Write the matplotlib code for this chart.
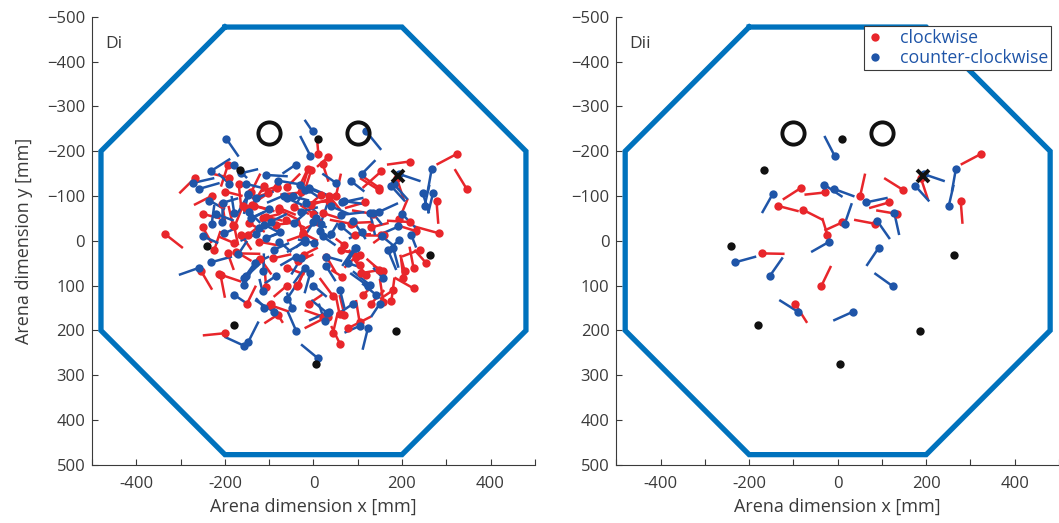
import numpy as np
import matplotlib.pyplot as plt
from matplotlib.lines import Line2D

plt.rcParams['font.family'] = ['Open Sans', 'DejaVu Sans']

RED = '#e8262b'
BLUE = '#1f55a8'
ARENA = '#0072bd'
GREY = '#3a3a3a'

# arena wall (octagon corners, mm)
arena_x = [-200, 200, 480, 480, 200, -200, -480, -480, -200]
arena_y = [-477, -477, -200, 200, 477, 477, 200, -200, -477]

# landmarks
ring_x = [-100, 100]
ring_y = [-240, -240]
post_x = [10, -167, -240, -180, 6, 187, 263]
post_y = [-228, -158, 12, 187, 275, 201, 32]
cross_x = [192]
cross_y = [-145]

# dipoles: head x, head y, tail x, tail y  (mm)
# subset shown in Dii
cw_sub = np.array([
    [324, -194, 278, -170], [-83, -118, -124, -92], [-28, -108, -75, -103],
    [51, -101, 62, -150], [147, -114, 105, -140], [-135, -78, -88, -66],
    [-78, -69, -34, -47], [-23, -13, -35, -51], [10, -41, -30, -23],
    [117, -86, 71, -73], [135, -60, 87, -68], [85, -38, 37, -47],
    [278, -88, 282, -38], [188, -140, 204, -92], [-172, 28, -120, 29],
    [-37, 101, -15, 56], [-96, 141, -69, 183],
])
ccw_sub = np.array([
    [-7, -190, -30, -234], [-147, -104, -171, -62], [-30, -125, 11, -98],
    [-9, -116, 38, -99], [65, -86, 113, -96], [16, -38, 32, -84],
    [89, -45, 118, -4], [128, -62, 139, -13], [175, -123, 207, -88],
    [194, -149, 242, -133], [267, -160, 258, -110], [251, -78, 262, -125],
    [-19, 2, -60, 25], [93, 15, 65, 56], [-232, 48, -184, 35],
    [-153, 78, -124, 37], [124, 101, 83, 72], [-90, 158, -132, 132],
    [35, 158, -10, 178],
])

# remaining dipoles, shown only in Di
cw_rest = np.array([
    [-335, -15, -295, 16], [-193, -170, -209, -121], [-267, -141, -303, -106],
    [-190, -141, -235, -151], [-169, -127, -163, -73], [-111, -123, -135, -85],
    [-206, -82, -200, -45], [-182, -36, -192, -78], [11, -194, 8, -229],
    [32, -186, 8, -165], [-5, -158, -17, -121], [21, -171, 34, -132],
    [153, -155, 111, -118], [149, -118, 111, -144], [-82, -121, -120, -110],
    [-103, -106, -140, -95], [34, -88, -15, -85], [89, -40, 135, -42],
    [-77, -73, -40, -58], [-84, -36, -50, -40], [93, -13, 130, -15],
    [70, 10, 50, -5], [153, -13, 115, -13], [217, -177, 166, -170],
    [217, -42, 166, -45], [194, -49, 213, -94], [346, -116, 319, -160],
    [283, -17, 228, -32], [231, -22, 188, -35], [160, -13, 135, 5],
    [206, 67, 196, 31], [226, 60, 217, 13], [255, 50, 228, 20],
    [203, 82, 198, 40], [226, 106, 183, 82], [176, 134, 183, 82],
    [158, 137, 150, 85], [158, 68, 135, 55], [-224, 20, -210, -22],
    [-254, 67, -229, 109], [-214, 74, -163, 91], [-210, 76, -200, 127],
    [-107, 104, -110, 65], [-199, 206, -250, 211], [104, 180, 96, 132],
    [78, 195, 130, 169], [70, 165, 59, 121], [59, 164, 50, 120],
    [44, 206, 55, 160], [32, 169, -20, 195], [21, 169, -20, 155],
    [-81, 165, -111, 184], [-99, 143, -55, 158], [44, 123, 14, 83],
    [-35, 98, -20, 60], [65, 80, 40, 65], [104, 31, 60, 20],
    [108, 72, 150, 65], [111, 121, 135, 100], [-145, -39, -110, -20],
    [-115, -51, -75, -60], [-163, -13, -140, 20], [-179, 5, -215, -10],
    [-152, -73, -120, -95], [-107, -54, -70, -45], [-139, -80, -100, -70],
    [-160, -77, -175, -40], [-179, -32, -170, 10], [-62, -47, -20, -30],
    [-122, 2, -80, 10], [-175, 24, -140, 45], [-194, 27, -180, 65],
    [-13, -160, -30, -125], [36, -99, 60, -70], [21, -62, 60, -50],
    [-24, -17, 10, 0], [-92, 39, -50, 30], [-35, 46, 0, 30],
    [29, 35, 50, 70], [-148, -13, -120, -35], [-22, 31, 10, 15],
    [63, 20, 100, 30], [149, 65, 120, 40],
    [-26, -114, -12, -160], [17, -103, -15, -75], [104, 54, 80, 20],
    [119, 76, 90, 40], [96, 35, 70, 60], [-23, -13, -60, 0],
    [-230, -100, -270, -80], [-250, -60, -210, -50], [-140, -110, -120, -150],
    [-60, -120, -30, -150], [-45, -75, -10, -60], [-5, -80, 40, -95],
    [130, -30, 170, -40], [-120, 40, -95, 75], [-60, 60, -20, 75],
    [-10, 140, 20, 120], [60, 230, 40, 190], [130, 140, 160, 110],
    [-60, 100, -90, 125], [-150, 140, -130, 100], [-250, -30, -230, 5],
    [-200, -110, -160, -100], [180, 110, 150, 130], [0, -60, -30, -80],
    [240, 20, 200, 35],
])
ccw_rest = np.array([
    [-197, -228, -169, -188], [-231, -156, -188, -183], [-273, -129, -224, -140],
    [-258, -116, -212, -129], [-190, -127, -215, -150], [-152, -127, -115, -118],
    [-107, -147, -58, -144], [-148, -103, -157, -60], [-230, -37, -224, -80],
    [-206, -42, -206, -80], [-201, -17, -176, -28], [-2, -244, -20, -270],
    [119, -244, 153, -203], [84, -134, 115, -110], [-79, -134, -24, -125],
    [-9, -119, 29, -103], [-67, -101, -105, -85], [68, -89, 115, -82],
    [63, -58, 115, -64], [134, -62, 155, -36], [6, -51, -15, -18],
    [-75, -19, -110, -5], [14, -22, 40, -5], [40, -15, 55, -40],
    [2, 5, -35, -3], [-20, -2, -40, 15], [149, -65, 191, -84],
    [192, -32, 157, -17], [221, -13, 232, 15], [194, -2, 175, 15],
    [155, -10, 180, 10], [247, -106, 261, -62], [270, -106, 259, -61],
    [181, -127, 213, -92], [168, 20, 187, 65], [180, 15, 192, 60],
    [-258, 60, -304, 76], [-158, 98, -130, 50], [-156, 83, -120, 50],
    [-113, 67, -112, 28], [-115, 113, -122, 85], [-111, 149, -130, 128],
    [-157, 234, -201, 214], [-147, 225, -124, 180], [10, 262, -28, 231],
    [-39, 201, -58, 158], [123, 195, 111, 243], [104, 190, 70, 205],
    [31, 161, -5, 132], [25, 179, 12, 140], [-49, 149, -60, 115],
    [-7, 71, -20, 117], [-84, 78, -110, 95], [29, 35, 65, 45],
    [96, 16, 75, 50], [127, 98, 89, 68], [142, 121, 110, 95],
    [78, 50, 110, 60], [157, 83, 135, 60], [-179, -62, -185, -100],
    [-141, -51, -110, -65], [-122, -28, -90, -40], [-107, -6, -70, -20],
    [-96, -43, -60, -60], [-60, -95, -25, -80], [-40, 35, -75, 55],
    [-163, -151, -125, -160], [-205, -85, -170, -95], [-145, -65, -120, -40],
    [-111, -36, -80, -20], [-77, 2, -50, 25], [-47, -99, -10, -90],
    [-43, -40, -15, -65], [-16, -84, 10, -60], [-2, -43, 30, -30],
    [21, -10, 50, 10], [-20, -114, -40, -80], [-133, 50, -100, 35],
    [29, 57, 50, 90], [-28, 39, -50, 75],
    [40, -77, 80, -60], [63, -32, 90, -10], [-28, -65, 10, -75],
    [-20, 60, -45, 95], [-235, -90, -200, -70], [-180, -170, -150, -140],
    [-130, -95, -90, -110], [-250, -10, -215, 5], [-170, 30, -150, 0],
    [-90, 20, -55, 5], [-60, 130, -40, 100], [-180, 120, -150, 140],
    [0, 100, 30, 125], [60, 110, 70, 150], [90, 140, 60, 160],
    [150, 140, 130, 170], [200, -60, 230, -30], [110, -150, 140, -180],
    [-40, -170, -70, -150], [-100, -70, -130, -55], [-220, -60, -180, -45],
    [50, -130, 20, -150], [-130, -15, -165, 0], [110, -20, 80, -5],
])

x_ticks = np.arange(-500, 501, 100)
x_labels = ['' if v % 200 or abs(v) == 500 else str(v) for v in x_ticks]
y_ticks = np.arange(-500, 501, 100)


def draw_dipoles(ax, d, color):
    for x0, y0, x1, y1 in d:
        ax.plot([x0, x1], [y0, y1], color=color, lw=1.8, solid_capstyle='butt', zorder=3)
    ax.plot(d[:, 0], d[:, 1], 'o', color=color, ms=6, mew=0, zorder=4)


def draw_panel(ax, cw, ccw, tag):
    ax.plot(arena_x, arena_y, color=ARENA, lw=3.8, solid_joinstyle='miter', zorder=2)
    ax.plot(ring_x, ring_y, 'o', mfc='none', mec='#111111', ms=16, mew=2.8, zorder=5)
    ax.plot(post_x, post_y, 'o', color='#111111', ms=6, mew=0, zorder=5)
    draw_dipoles(ax, cw, RED)
    draw_dipoles(ax, ccw, BLUE)
    ax.plot(cross_x, cross_y, 'x', color='#111111', ms=8, mew=2.8, zorder=6)

    ax.set_xlim(-500, 500)
    ax.set_ylim(500, -500)
    ax.set_xticks(x_ticks)
    ax.set_xticklabels(x_labels)
    ax.set_yticks(y_ticks)
    for s in ['top', 'right']:
        ax.spines[s].set_visible(False)
    for s in ['left', 'bottom']:
        ax.spines[s].set_color(GREY)
        ax.spines[s].set_linewidth(0.8)
    ax.tick_params(direction='in', length=4, width=0.8, color=GREY,
                   labelcolor=GREY, labelsize=12)
    ax.tick_params(axis='x', pad=8)
    ax.tick_params(axis='y', pad=5)
    ax.set_xlabel('Arena dimension x [mm]', fontsize=13, color=GREY, labelpad=4)
    ax.text(-470, -440, tag, fontsize=12.5, color=GREY, va='center', ha='left')


fig = plt.figure(figsize=(10.59, 5.23), dpi=100)
ax1 = fig.add_axes([0.087, 0.111, 0.418, 0.857])
ax2 = fig.add_axes([0.582, 0.111, 0.418, 0.857])

draw_panel(ax1, np.vstack([cw_sub, cw_rest]), np.vstack([ccw_sub, ccw_rest]), 'Di')
draw_panel(ax2, cw_sub, ccw_sub, 'Dii')
ax1.set_ylabel('Arena dimension y [mm]', fontsize=13, color=GREY, labelpad=10)

handles = [Line2D([], [], ls='none', marker='o', color=RED, ms=6, mew=0),
           Line2D([], [], ls='none', marker='o', color=BLUE, ms=6, mew=0)]
leg = ax2.legend(handles, ['clockwise', 'counter-clockwise'], loc='upper right',
                 bbox_to_anchor=(0.982, 0.979), fontsize=12.8, frameon=True,
                 fancybox=False, framealpha=1, edgecolor=GREY, borderpad=0.15,
                 handletextpad=0.9, labelspacing=0.12, handlelength=1.0,
                 borderaxespad=0)
leg.get_frame().set_linewidth(0.8)
leg.set_zorder(10)
for t in leg.get_texts():
    t.set_color(BLUE)

fig.savefig('out.png', dpi=100)
